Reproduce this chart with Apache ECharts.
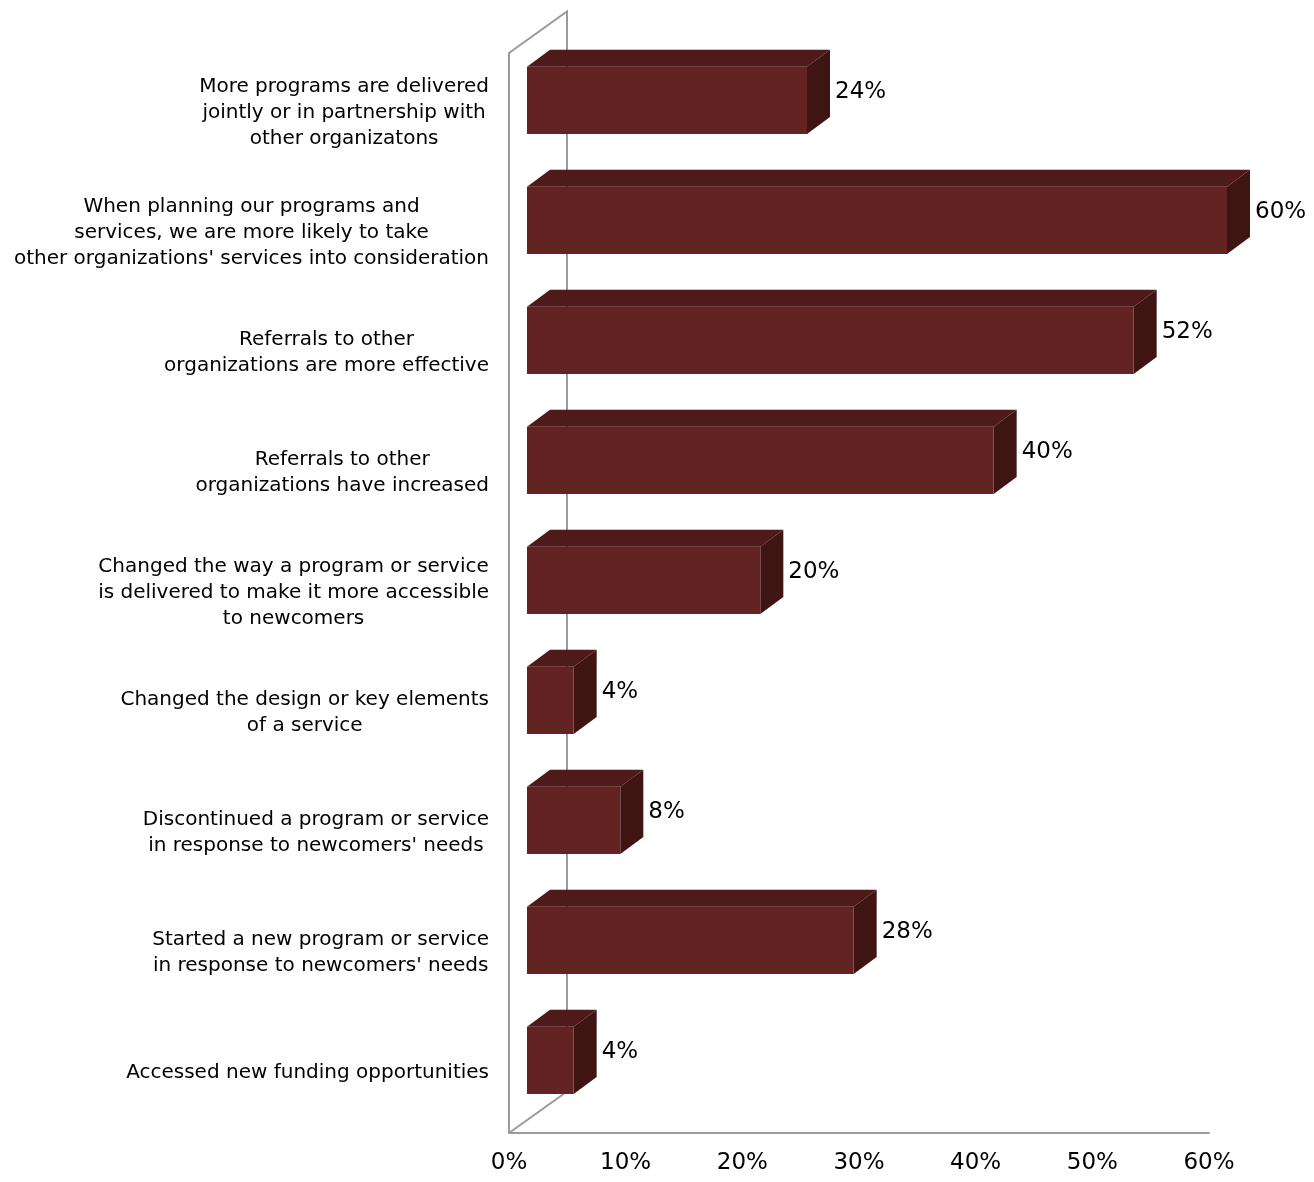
<!DOCTYPE html>
<html><head><meta charset="utf-8">
<script src="https://cdn.jsdelivr.net/npm/echarts@6/dist/echarts.min.js"></script>
<style>html,body{margin:0;padding:0;background:#fff}#c{width:1314px;height:1182px}</style>
</head><body><div id="c"></div>
<script>
const categories = [
  "More programs are delivered\njointly or in partnership with\nother organizatons",
  "When planning our programs and\nservices, we are more likely to take\nother organizations' services into consideration",
  "Referrals to other\norganizations are more effective",
  "Referrals to other\norganizations have increased",
  "Changed the way a program or service\nis delivered to make it more accessible\nto newcomers",
  "Changed the design or key elements\nof a service",
  "Discontinued a program or service\nin response to newcomers' needs",
  "Started a new program or service\nin response to newcomers' needs",
  "Accessed new funding opportunities"
];
const values = [24, 60, 52, 40, 20, 4, 8, 28, 4];
const axisMin = 0, axisMax = 60, axisStep = 10;

const FONT = '"DejaVu Sans", sans-serif';
const CAT_SIZE = 20, CAT_LH = 26, VAL_SIZE = 23;
const FRONT = '#622322', TOP = '#4e1b1a', SIDE = '#3f1514', WALL = '#9b9b9b';
// 3D projection offsets (screen px)
const OFF_X = 18, OFF_Y = -12.7;   // front plane -> bar front face
const DEP_X = 23, DEP_Y = -17;     // bar depth
const WALL_X = 58, WALL_Y = -41.5; // full floor depth
const BAR_RATIO = 0.56;

const mctx = document.createElement('canvas').getContext('2d');
mctx.font = CAT_SIZE + 'px ' + FONT;
function blockWidth(t){ return Math.max(...t.split('\n').map(l => mctx.measureText(l).width)); }

function renderBar(params, api){
  const val = api.value(0), cat = api.value(1);
  const p0 = api.coord([0, cat]);
  const p1 = api.coord([val, cat]);
  const band = api.size([0, 1])[1];
  const h = band * BAR_RATIO;
  const xl = p0[0] + OFF_X, xr = p1[0] + OFF_X;
  const yc = p0[1] + OFF_Y, yt = yc - h/2, yb = yc + h/2;
  const label = categories[cat];
  const bw = blockWidth(label);
  const rightEdge = p0[0] - 20;
  return {
    type: 'group',
    children: [
      {type:'polygon', shape:{points:[[xl,yt],[xr,yt],[xr+DEP_X,yt+DEP_Y],[xl+DEP_X,yt+DEP_Y]]}, style:{fill:TOP}},
      {type:'polygon', shape:{points:[[xr,yt],[xr+DEP_X,yt+DEP_Y],[xr+DEP_X,yb+DEP_Y],[xr,yb]]}, style:{fill:SIDE}},
      {type:'rect', shape:{x:xl, y:yt, width:xr-xl, height:h}, style:{fill:FRONT}},
      {type:'text', style:{text: val + '%', x: xr + DEP_X + 5, y: yc + DEP_Y/2, align:'left', verticalAlign:'middle',
        fontFamily: FONT, fontSize: VAL_SIZE, fill:'#000'}},
      {type:'text', style:{text: label, x: rightEdge - bw/2, y: p0[1], align:'center', verticalAlign:'middle',
        fontFamily: FONT, fontSize: CAT_SIZE, lineHeight: CAT_LH, fill:'#000'}}
    ]
  };
}

function renderWalls(params, api){
  const cs = params.coordSys;
  const x0 = cs.x, yT = cs.y, yB = cs.y + cs.height;
  const ls = {stroke: WALL, lineWidth: 2};
  return {
    type:'group',
    children:[
      {type:'polyline', shape:{points:[[x0,yB],[x0,yT],[x0+WALL_X,yT+WALL_Y],[x0+WALL_X,yB+WALL_Y],[x0,yB]]}, style:Object.assign({fill:null}, ls)}
    ]
  };
}

const chart = echarts.init(document.getElementById('c'), null, {renderer:'canvas'});
chart.setOption({
  backgroundColor:'#fff',
  animation:false,
  grid:{left:509, top:53, width:700, height:1080},
  xAxis:{type:'value', min:axisMin, max:axisMax, interval:axisStep,
    axisLine:{show:true, lineStyle:{color:WALL, width:2}}, axisTick:{show:false}, splitLine:{show:false},
    axisLabel:{formatter:'{value}%', fontFamily:FONT, fontSize:VAL_SIZE, color:'#000', margin:19}},
  yAxis:{type:'category', data:categories, inverse:true,
    axisLine:{show:false}, axisTick:{show:false}, axisLabel:{show:false}, splitLine:{show:false}},
  series:[
    {type:'custom', name:'walls', renderItem:renderWalls, data:[[0,0]], z:1, silent:true},
    {type:'custom', name:'bars', renderItem:renderBar, encode:{x:0, y:1},
      data: values.map((v,i)=>[v,i]), z:2}
  ]
});
</script></body></html>
